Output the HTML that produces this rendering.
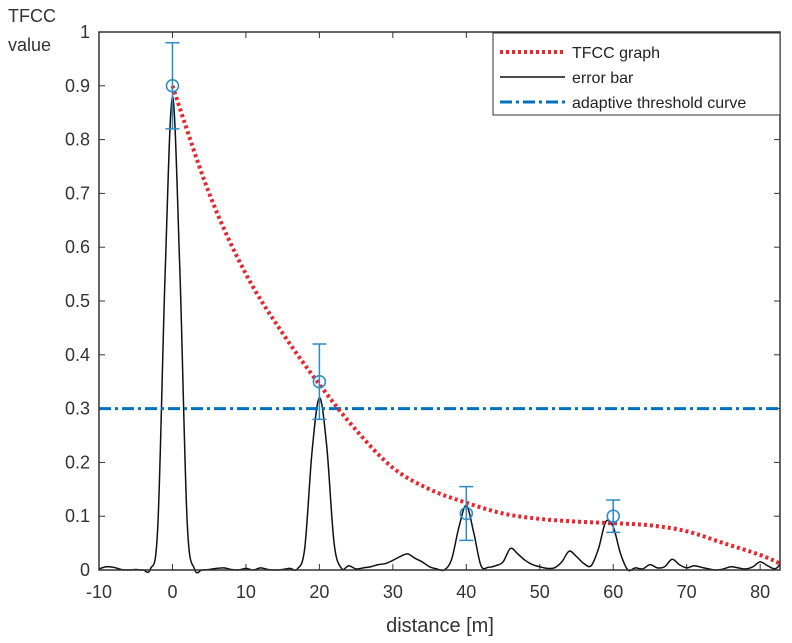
<!DOCTYPE html>
<html><head><meta charset="utf-8"><style>
html,body{margin:0;padding:0;background:#fff;}
svg{display:block;font-family:"Liberation Sans",sans-serif;}
</style></head><body>
<svg id="c" width="792" height="643">
<rect x="0" y="0" width="792" height="643" fill="#fff"/>
<text x="8" y="22" font-size="18" fill="#333">TFCC</text>
<text x="8" y="51" font-size="18" fill="#333">value</text>
<text x="440" y="632" font-size="20" fill="#333" text-anchor="middle">distance [m]</text>
<g id="g"></g>
</svg>
<script>
const xTicks=[-10,0,10,20,30,40,50,60,70,80];
const yTicks=[0,0.1,0.2,0.3,0.4,0.5,0.6,0.7,0.8,0.9,1];
const yTickLabels=["0","0.1","0.2","0.3","0.4","0.5","0.6","0.7","0.8","0.9","1"];
const sigX=[-10,-9,-8,-7,-6,-5,-4,-3,-2,-1,0,1,2,3,4,5,6,7,8,9,10,11,12,13,14,15,16,17,18,19,20,21,22,23,24,25,26,27,28,29,30,31,32,33,34,35,36,37,38,39,40,41,42,43,44,45,46,47,48,49,50,51,52,53,54,55,56,57,58,59,60,61,62,63,64,65,66,67,68,69,70,71,72,73,74,75,76,77,78,79,80,81,82,82.7];
const sigY=[0.002,0.006,0.005,0.001,0,0.001,0,0.002,0.08,0.55,0.88,0.56,0.09,0.002,0,0.001,0.003,0.004,0.001,0,0.003,0,0.004,0.001,0,0.001,0.003,0.002,0.04,0.22,0.32,0.23,0.05,0.003,0.008,0.002,0.004,0.006,0.01,0.012,0.018,0.025,0.03,0.022,0.015,0.006,0.002,0,0.02,0.08,0.12,0.07,0.008,0.005,0.008,0.015,0.04,0.03,0.018,0.01,0.006,0.003,0.004,0.015,0.035,0.025,0.012,0.008,0.04,0.09,0.08,0.03,0,0.004,0.002,0.01,0.004,0.006,0.02,0.01,0.004,0.008,0.005,0.002,0,0.002,0.006,0.004,0.002,0.006,0.015,0.008,0.002,0.01];
const tfX=[0,5,10,15,20,25,30,35,40,45,50,55,60,65,70,75,80,82.7];
const tfY=[0.9,0.7,0.55,0.44,0.345,0.26,0.19,0.15,0.125,0.105,0.095,0.09,0.087,0.083,0.072,0.05,0.028,0.012];
const ebX=[0,20,40,60];
const ebY=[0.9,0.35,0.105,0.1];
const ebErr=[0.08,0.07,0.05,0.03];
const threshold=0.3;
const X0=99,X1=780,Y0=570,Y1=32,xmin=-10,xmax=82.7;
const sx=v=>X0+(v-xmin)/(xmax-xmin)*(X1-X0);
const sy=v=>Y0-v*(Y0-Y1);
const NS="http://www.w3.org/2000/svg",g=document.getElementById('g');
function mk(t,a,p){const e=document.createElementNS(NS,t);for(const k in a)e.setAttribute(k,a[k]);(p||g).appendChild(e);return e;}
function smooth(xs,ys){let d=`M${sx(xs[0])},${sy(ys[0])}`;for(let i=0;i<xs.length-1;i++){const p0=[sx(xs[Math.max(i-1,0)]),sy(ys[Math.max(i-1,0)])],p1=[sx(xs[i]),sy(ys[i])],p2=[sx(xs[i+1]),sy(ys[i+1])],p3=[sx(xs[Math.min(i+2,xs.length-1)]),sy(ys[Math.min(i+2,xs.length-1)])];d+=` C${p1[0]+(p2[0]-p0[0])/6},${p1[1]+(p2[1]-p0[1])/6} ${p2[0]-(p3[0]-p1[0])/6},${p2[1]-(p3[1]-p1[1])/6} ${p2[0]},${p2[1]}`;}return d;}
let e;
xTicks.forEach(v=>{
e=mk('line',{x1:sx(v),x2:sx(v),y1:Y0,y2:Y0-6,stroke:'#333'});


e=mk('line',{x1:sx(v),x2:sx(v),y1:Y1,y2:Y1+6,stroke:'#333'});


e=mk('text',{x:sx(v),y:Y0+28,'font-size':18,fill:'#333','text-anchor':'middle'});e.textContent=v;


});
yTicks.forEach((v,i)=>{
e=mk('line',{x1:X0,x2:X0+6,y1:sy(v),y2:sy(v),stroke:'#333'});


e=mk('line',{x1:X1,x2:X1-6,y1:sy(v),y2:sy(v),stroke:'#333'});


e=mk('text',{x:X0-9,y:sy(v)+6,'font-size':18,fill:'#333','text-anchor':'end'});e.textContent=yTickLabels[i];


});
e=mk('path',{d:smooth(sigX,sigY),fill:'none',stroke:'#111','stroke-width':1.5});


e=mk('line',{x1:X0,x2:X1,y1:sy(threshold),y2:sy(threshold),stroke:'#0072BD','stroke-width':3,'stroke-dasharray':'12 4 3 4'});


e=mk('path',{d:smooth(tfX,tfY),fill:'none',stroke:'#e8262e','stroke-width':4,'stroke-dasharray':'3 3'});


ebX.forEach((v,i)=>{
const x=sx(v),t=sy(ebY[i]+ebErr[i]),b=sy(ebY[i]-ebErr[i]);
e=mk('path',{d:`M${x},${t}V${b}M${x-7},${t}H${x+7}M${x-7},${b}H${x+7}`,stroke:'#2a8bc6','stroke-width':1.5,fill:'none'});


e=mk('circle',{cx:x,cy:sy(ebY[i]),r:6,fill:'none',stroke:'#2a8bc6','stroke-width':1.5});


});
e=mk('rect',{x:X0,y:Y1,width:X1-X0,height:Y0-Y1,fill:'none',stroke:'#333','stroke-width':1.5});


const lg=mk('g',{});


mk('rect',{x:493,y:33,width:287,height:82,fill:'#fff',stroke:'#333'},lg);
const items=[['TFCC graph','#e8262e',4,'3 3'],['error bar','#111',1.5,''],['adaptive threshold curve','#0072BD',3,'12 4 3 4']];
items.forEach((it,i)=>{const y=52+i*25;
const li=mk('g',{},lg);


mk('line',{x1:500,x2:565,y1:y,y2:y,stroke:it[1],'stroke-width':it[2],'stroke-dasharray':it[3]},li);
const t=mk('text',{x:572,y:y+6,'font-size':16,fill:'#222'},li);t.textContent=it[0];});
</script>
</body></html>
